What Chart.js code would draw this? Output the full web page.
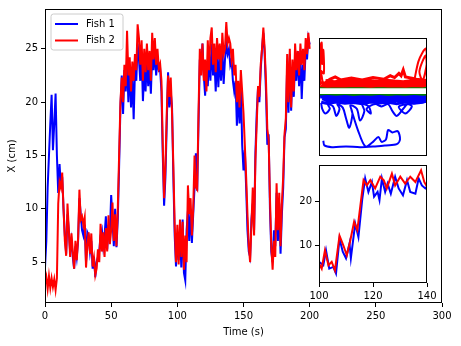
<!DOCTYPE html>
<html>
<head>
<meta charset="utf-8">
<script src="https://cdn.jsdelivr.net/npm/chart.js@4"></script>
<style>
body{margin:0;background:#fff;}
#wrap{position:relative;width:461px;height:346px;}
canvas{position:absolute;}
</style>
</head>
<body>
<div id="wrap">
<canvas id="main" width="461" height="346" style="left:0;top:0;width:461px;height:346px"></canvas>
<canvas id="zoomin" width="150" height="150" style="left:290px;top:155px;width:150px;height:150px"></canvas>
<canvas id="track" width="110" height="120" style="left:318px;top:37px;width:110px;height:120px"></canvas>
</div>
<script>
// main series, one sample per second
const time = [
 0,1,2,3,4,5,6,7,8,9,10,11,12,13,14,15,16,17,18,19,
 20,21,22,23,24,25,26,27,28,29,30,31,32,33,34,35,36,37,38,39,
 40,41,42,43,44,45,46,47,48,49,50,51,52,53,54,55,56,57,58,59,
 60,61,62,63,64,65,66,67,68,69,70,71,72,73,74,75,76,77,78,79,
 80,81,82,83,84,85,86,87,88,89,90,91,92,93,94,95,96,97,98,99,
 100,101,102,103,104,105,106,107,108,109,110,111,112,113,114,115,116,117,118,119,
 120,121,122,123,124,125,126,127,128,129,130,131,132,133,134,135,136,137,138,139,
 140,141,142,143,144,145,146,147,148,149,150,151,152,153,154,155,156,157,158,159,
 160,161,162,163,164,165,166,167,168,169,170,171,172,173,174,175,176,177,178,179,
 180,181,182,183,184,185,186,187,188,189,190,191,192,193,194,195,196,197,198,199,200];
const fish1X = [
 4.5,7.0,12.0,15.0,18.0,20.7,15.5,18.0,20.8,15.0,11.5,14.2,12.0,13.0,10.0,7.5,5.8,9.5,8.0,6.0,
 7.0,5.5,4.4,6.5,5.5,7.0,11.0,9.5,8.0,7.5,8.5,5.0,7.8,7.5,6.0,7.0,4.4,5.5,3.6,5.0,
 5.5,6.0,7.5,8.0,6.5,7.5,9.3,6.2,8.5,7.5,11.3,9.0,6.5,10.0,6.4,9.0,14.0,19.5,22.5,18.9,
 23.0,21.0,24.0,20.0,23.5,19.5,22.5,18.4,23.0,22.0,25.5,24.0,22.0,24.5,20.1,23.0,21.0,24.0,21.5,23.5,
 20.8,24.5,23.0,25.0,22.5,24.0,23.0,23.1,21.0,15.0,10.3,13.0,18.0,22.8,19.5,21.0,19.5,13.0,7.5,4.6,
 7.5,5.2,8.0,4.5,9.0,4.0,3.3,8.0,9.8,7.0,10.0,6.8,9.5,12.0,15.2,11.7,18.0,24.0,23.0,25.5,
 22.5,20.6,23.5,21.5,24.5,22.0,25.5,22.5,24.0,21.0,24.5,21.4,24.5,22.0,25.0,21.7,24.0,25.5,24.5,25.0,
 23.5,24.0,22.0,21.0,22.0,17.8,21.0,18.0,22.0,16.0,13.6,15.5,12.0,8.0,6.0,5.5,9.0,10.5,8.0,15.2,
 19.0,21.4,20.0,23.0,25.0,26.5,24.5,21.0,16.0,17.0,10.0,6.0,5.0,8.0,6.5,11.5,7.0,10.5,5.8,9.5,
 12.0,16.7,17.5,23.5,19.0,24.5,19.2,23.0,20.5,24.0,22.0,24.8,21.5,24.5,20.3,23.5,22.0,25.0,24.0,26.0,25.4];
const fish2X = [
 3.0,3.6,2.5,3.7,2.6,3.5,2.7,3.4,2.4,3.5,10.5,12.5,12.0,13.4,10.0,7.0,5.6,10.5,8.0,5.5,
 7.7,6.0,4.4,7.0,5.2,7.2,11.8,9.0,9.3,8.5,9.2,4.5,6.5,7.8,5.8,7.7,4.6,5.4,3.8,4.4,
 6.2,5.0,8.6,6.0,7.8,5.5,8.2,6.0,9.4,6.7,8.0,10.6,7.0,9.5,6.5,10.0,15.0,20.0,22.3,20.0,
 23.5,21.5,26.7,22.5,24.2,21.0,23.8,22.0,24.5,23.0,27.3,26.0,23.5,25.8,22.0,25.0,22.8,25.5,23.0,24.8,
 22.0,26.5,24.0,26.0,23.5,25.0,23.2,23.6,22.0,16.0,11.0,14.0,19.0,22.5,20.5,22.3,19.0,14.0,8.5,5.0,
 8.5,4.8,9.0,5.5,8.8,4.3,7.5,5.0,12.2,9.5,11.0,7.5,10.0,15.0,12.0,11.8,19.0,25.0,22.5,25.5,
 22.0,24.0,21.0,25.8,23.0,26.0,27.0,23.5,25.5,22.8,26.0,24.0,25.5,23.0,26.5,24.5,25.0,27.5,25.5,26.0,
 25.5,24.0,25.0,22.5,23.5,20.0,22.0,19.5,23.0,21.0,19.0,16.0,13.0,9.5,6.5,5.0,8.5,12.0,7.5,14.5,
 18.0,21.5,20.5,23.5,25.0,27.0,25.0,22.0,17.5,16.5,11.0,6.5,4.3,7.0,5.5,12.4,8.0,11.5,6.5,10.5,
 13.0,17.0,18.5,24.5,20.0,25.0,19.5,24.0,21.0,25.5,23.0,24.8,22.5,25.5,23.5,25.0,23.0,26.0,24.5,26.5,25.0];
const mainXTicks = [0, 50, 100, 150, 200, 250, 300];
const mainYTicks = [5, 10, 15, 20, 25];

// zoomed inset, 100 s to 140 s
const zoomT1 = [100,101.6,102.6,103.8,105.3,106.3,107.6,108.8,110,111.3,111.8,113.4,114.6,116,117.1,118.3,119.6,120.4,121.7,122.4,123.3,124.5,125.4,126.6,128.2,129.5,131.1,132.6,133.8,135.7,136.9,138.1,139.4,140];
const zoomFish1 = [6.2,5.4,8.8,4.6,5.0,3.5,11.5,8.5,7.0,10.4,7.0,15.0,11.9,20.5,25.4,22.3,24.6,21.2,22.3,20.4,25.4,22.3,24.2,21.9,25.8,23.1,21.5,25.0,22.3,21.9,25.4,23.8,23.1,23.5];
const zoomT2 = [100,101,102.2,103.5,104.7,105.9,107.6,109,110.3,111.5,113,114.2,115.3,116.5,117.7,119,120.8,122.7,124,125.1,127,128.2,130.1,131.9,133.8,135.7,137.8,139,140];
const zoomFish2 = [5.8,4.6,8.8,5.4,6.2,4.2,12.2,10.0,7.7,10.8,15.4,13.5,19.0,25.0,23.8,25.0,23.1,25.8,25.0,23.1,26.5,23.8,25.8,24.2,25.8,24.6,27.3,24.6,23.5];
const zoomXTicks = [100, 120, 140];
const zoomYTicks = [10, 20];

// trajectory inset (arena coords, 0-100, y down)
// dense back-and-forth swimming along the wall
const trackFish2BandX = [
 6,14,22,30,38,46,54,62,70,78,86,94,100,
 96,88,80,72,64,56,48,40,32,24,16,8,3,
 8,16,24,32,40,48,56,64,72,80,88,96,100,
 96,88,80,72,64,56,48,40,32,24,16,8,3,
 10,15,20,30,40,50,60,66,70,74,76,78,80,86,90,100];
const trackFish2BandY = [
 36,37,36.5,35.5,37,36,36.8,35.8,36.5,37,36,36.5,37,
 38,38.8,37.5,38.5,37.8,38.6,37.6,38.4,38,38.8,37.7,38.3,38,
 39.3,40,39.2,39.8,39.5,40.1,39.3,39.8,39.4,40,39.5,39.2,39.8,
 40.6,40.2,40.8,40.4,40.7,40.3,40.8,40.5,40.2,40.7,40.4,40.8,40.5,
 35,33,35.5,34,35.5,33.5,35,32,33.5,30,32,27,33,34,35,36];
// excursions away from the wall
const trackFish2PathX = [1,1.5,2.5,3,4,4.5,2,3.5,null,88,92,96,99,100,96,93,99,100];
const trackFish2PathY = [40,6,4,22,10,30,28,38,null,37,20,12,9,20,36,28,15,38];
const trackFish1BandX = [
 1,8,16,24,32,40,48,56,64,72,80,88,96,100,
 96,88,80,72,64,56,48,40,32,24,16,8,3,
 8,16,24,32,40,48,56,64,72,80,88,96,100,
 96,88,80,72,64,56,48,40,32,24,16,8,2];
const trackFish1BandY = [
 50,49.5,50.3,49.6,50.4,49.8,50.2,49.5,50.4,49.7,50.3,49.6,50.2,50,
 51.5,52.2,51,51.8,51.2,52,51.3,51.9,51.1,51.8,51.4,52.1,51.5,
 53,53.6,52.8,53.4,52.9,53.7,53,53.5,52.8,53.6,53.1,53.4,53,
 54.5,55.3,54.2,55.6,54.4,55,54.3,55.8,54.6,55.2,54.3,55.5,54.5];
const trackFish1PathX = [
 2,3,6,10,8,13,16,19,17,22,25,28,31,29,35,38,42,40,46,48,44,52,58,
 64,68,72,78,82,86,80,74,90,99,
 null,
 30,36,43,50,55,58,62,64,68,73,75,72,62,50,38,25,12,5,4];
const trackFish1PathY = [
 55,60,64,60,56,58,66,60,56,59,68,76,64,57,60,70,62,56,58,64,60,56,58,
 56,62,66,60,56,58,64,58,55,54,
 null,
 61,78,92,88,84,88,86,78,80,79,86,90,91,92,92.5,92,92.5,91,87];
const wallY = [41.8, 48.3];

const seriesNames = ['Fish 1', 'Fish 2'];
const seriesColors = ['#0000ff', '#ff0000'];
const wallColor = '#008000';
const FONT = 'DejaVu Sans';

function pts(xs, ys) {
	return xs.map((x, i) => ({x: x, y: ys[i]}));
}
function fixTicks(list) {
	return s => { s.ticks = list.map(v => ({value: v})); };
}

const framePlugin = {
	id: 'frame',
	beforeDraw(chart) {
		const a = chart.chartArea;
		const ctx = chart.ctx;
		ctx.save();
		ctx.fillStyle = '#fff';
		ctx.fillRect(a.left, a.top, a.right - a.left, a.bottom - a.top);
		ctx.restore();
	},
	afterDatasetsDraw(chart) {
		const a = chart.chartArea;
		const ctx = chart.ctx;
		ctx.save();
		ctx.strokeStyle = '#000';
		ctx.lineWidth = 1;
		ctx.strokeRect(Math.round(a.left) + 0.5, Math.round(a.top) + 0.5, Math.round(a.right - a.left) - 1, Math.round(a.bottom - a.top) - 1);
		ctx.restore();
	}
};

const boxLegend = {
	id: 'boxLegend',
	afterDraw(chart) {
		const a = chart.chartArea;
		const ctx = chart.ctx;
		const x0 = a.left + 6, y0 = a.top + 5, w = 72, h = 36, r = 2.5;
		ctx.save();
		ctx.beginPath();
		ctx.moveTo(x0 + r, y0);
		ctx.arcTo(x0 + w, y0, x0 + w, y0 + h, r);
		ctx.arcTo(x0 + w, y0 + h, x0, y0 + h, r);
		ctx.arcTo(x0, y0 + h, x0, y0, r);
		ctx.arcTo(x0, y0, x0 + w, y0, r);
		ctx.closePath();
		ctx.fillStyle = 'rgba(255,255,255,0.8)';
		ctx.fill();
		ctx.strokeStyle = '#cccccc';
		ctx.lineWidth = 1;
		ctx.stroke();
		ctx.font = '10px "' + FONT + '"';
		ctx.textBaseline = 'middle';
		ctx.fillStyle = '#000';
		seriesNames.forEach((name, i) => {
			const yy = y0 + 10 + i * 16.5;
			ctx.strokeStyle = seriesColors[i];
			ctx.lineWidth = 2;
			ctx.beginPath();
			ctx.moveTo(x0 + 4, yy);
			ctx.lineTo(x0 + 27, yy);
			ctx.stroke();
			ctx.fillText(name, x0 + 35, yy);
		});
		ctx.restore();
	}
};

function axisStyle(extra) {
	return Object.assign({
		grid: {drawOnChartArea: false, drawTicks: true, tickLength: 4, color: '#000', lineWidth: 1},
		border: {display: false},
		ticks: {color: '#000', font: {family: FONT, size: 10}, padding: 3, maxRotation: 0, autoSkip: false}
	}, extra);
}

new Chart(document.getElementById('main'), {
	type: 'line',
	data: {
		datasets: [
			{label: seriesNames[0], data: pts(time, fish1X), borderColor: seriesColors[0], borderWidth: 2, pointRadius: 0, tension: 0, order: 2},
			{label: seriesNames[1], data: pts(time, fish2X), borderColor: seriesColors[1], borderWidth: 2, pointRadius: 0, tension: 0, order: 1}
		]
	},
	options: {
		responsive: false,
		animation: false,
		devicePixelRatio: 1,
		layout: {padding: {left: 0, right: 19, top: 8, bottom: 0}},
		plugins: {legend: {display: false}, tooltip: {enabled: false}},
		scales: {
			x: axisStyle({
				type: 'linear', min: 0, max: 300,
				afterBuildTicks: fixTicks(mainXTicks),
				afterFit: s => { s.height = 43; },
				title: {display: true, text: 'Time (s)', color: '#000', font: {family: FONT, size: 10}, padding: {top: 0, bottom: 8}}
			}),
			y: axisStyle({
				type: 'linear', min: 1.18, max: 28.73,
				afterBuildTicks: fixTicks(mainYTicks),
				afterFit: s => { s.width = 45; },
				title: {display: true, text: 'X (cm)', color: '#000', font: {family: FONT, size: 10}, padding: {top: 6.5, bottom: 0}}
			})
		}
	},
	plugins: [framePlugin, boxLegend]
});

new Chart(document.getElementById('zoomin'), {
	type: 'line',
	data: {
		datasets: [
			{data: pts(zoomT1, zoomFish1), borderColor: seriesColors[0], borderWidth: 2, pointRadius: 0, tension: 0, order: 2},
			{data: pts(zoomT2, zoomFish2), borderColor: seriesColors[1], borderWidth: 2, pointRadius: 0, tension: 0, order: 1}
		]
	},
	options: {
		responsive: false,
		animation: false,
		devicePixelRatio: 1,
		layout: {padding: {left: 0, right: 13, top: 10, bottom: 0}},
		plugins: {legend: {display: false}, tooltip: {enabled: false}},
		scales: {
			x: axisStyle({type: 'linear', min: 100, max: 140, afterBuildTicks: fixTicks(zoomXTicks), afterFit: s => { s.height = 22; }}),
			y: axisStyle({type: 'linear', min: 1.3, max: 28.5, afterBuildTicks: fixTicks(zoomYTicks), afterFit: s => { s.width = 29; }})
		}
	},
	plugins: [framePlugin]
});

new Chart(document.getElementById('track'), {
	type: 'scatter',
	data: {
		datasets: [
			{data: pts(trackFish1BandX, trackFish1BandY), borderColor: seriesColors[0], borderWidth: 3, showLine: true, pointRadius: 0},
			{data: pts(trackFish1PathX, trackFish1PathY), borderColor: seriesColors[0], borderWidth: 2, showLine: true, pointRadius: 0, spanGaps: false, tension: 0.3},
			{data: pts(trackFish2BandX, trackFish2BandY), borderColor: seriesColors[1], borderWidth: 3, showLine: true, pointRadius: 0},
			{data: pts(trackFish2PathX, trackFish2PathY), borderColor: seriesColors[1], borderWidth: 2, showLine: true, pointRadius: 0, spanGaps: false, tension: 0.3},
			{data: pts([0, 100], [wallY[0], wallY[0]]), borderColor: wallColor, borderWidth: 2, showLine: true, pointRadius: 0},
			{data: pts([0, 100], [wallY[1], wallY[1]]), borderColor: wallColor, borderWidth: 2, showLine: true, pointRadius: 0}
		]
	},
	options: {
		responsive: false,
		animation: false,
		devicePixelRatio: 1,
		layout: {padding: 1},
		plugins: {legend: {display: false}, tooltip: {enabled: false}},
		scales: {
			x: {type: 'linear', min: 0, max: 100, display: false},
			y: {type: 'linear', min: 0, max: 100, reverse: true, display: false}
		}
	},
	plugins: [framePlugin]
});
</script>
</body>
</html>
